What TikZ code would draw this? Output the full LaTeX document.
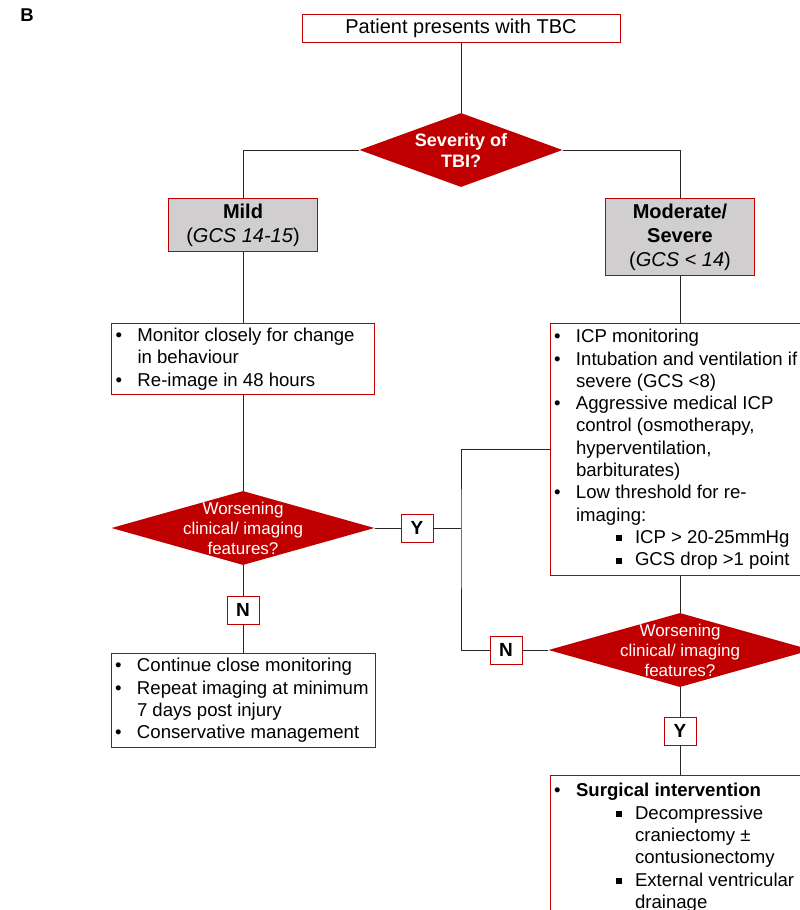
\documentclass[tikz,border=0pt]{standalone}
\usepackage{fontspec}
\setmainfont{Liberation Sans}
\usetikzlibrary{shapes.geometric}
\definecolor{tbired}{HTML}{C00000}
\definecolor{tbigray}{HTML}{D0CECE}
\newcommand{\listfont}{\fontsize{18.6}{22.3}\selectfont}
\newcommand{\bul}[1]{\par\noindent\hangindent=22pt\hangafter=1\makebox[22pt][l]{\textbullet}#1}
\newcommand{\sqbul}[1]{\par\noindent\hangindent=81pt\hangafter=1\hspace*{62pt}\makebox[19pt][l]{\rule[2pt]{6pt}{6pt}}#1}
\newcommand{\blist}[2]{\begin{minipage}{#1}\raggedright\hyphenpenalty=10000\listfont#2\end{minipage}}

\begin{document}
\begin{tikzpicture}[x=1pt, y=-1pt,
    link/.style={draw=black!85, line width=0.9pt},
    title/.style={draw=tbired, fill=white, line width=0.8pt, minimum width=318pt, minimum height=28pt, inner sep=0pt, font=\fontsize{20}{24}\selectfont},
    grade/.style={draw=tbired, fill=tbigray, line width=0.8pt, anchor=north, minimum width=149pt, inner sep=0pt, align=center, font=\fontsize{20}{24}\selectfont},
    listbox/.style={draw=tbired, fill=white, line width=0.8pt, anchor=north, inner sep=0pt},
    dec/.style={diamond, fill=tbired, draw=none, minimum height=74pt, inner sep=0pt},
    dectext/.style={text=white, align=center, inner sep=0pt},
    yn/.style={draw=tbired, fill=white, line width=0.8pt, minimum width=32pt, minimum height=28pt, inner sep=0pt, font=\fontsize{19}{22}\selectfont\bfseries}]
    \useasboundingbox (0,0) rectangle (800,910);
    \clip (0,0) rectangle (800,910);

    \node[font=\fontsize{18.5}{20}\selectfont\bfseries] (panel) at (27,15) {B};

    % Top
    \node[title] (pres) at (461,28) {\raisebox{-1.5pt}{Patient presents with TBC}};
    \node[dec, minimum width=203pt] (sev) at (461,150) {};
    \node[dectext, font=\fontsize{18}{21}\selectfont\bfseries] (sevq) at (sev) {Severity of\\TBI?};

    % Mild branch
    \node[grade, minimum height=53pt] (mild) at (243,198) {\textbf{Mild}\\(\textit{GCS 14-15})};
    \node[listbox, minimum width=263pt, minimum height=71pt] (mildlist) at (243,323) {\blist{255pt}{%
        \bul{Monitor closely for change\newline in behaviour}
        \bul{Re-image in 48 hours}}};
    \node[dec, minimum width=263pt] (wors1) at (243,528) {};
    \node[dectext, font=\fontsize{17}{20}\selectfont] (wors1q) at (wors1) {Worsening\\clinical/ imaging\\features?};
    \node[yn] (y1) at (417,528) {Y};
    \node[yn] (n1) at (243,610) {N};
    \node[listbox, minimum width=264pt, minimum height=94pt] (mildcont) at (243,653) {\blist{256pt}{%
        \bul{Continue close monitoring}
        \bul{Repeat imaging at minimum\newline 7 days post injury}
        \bul{Conservative management}}};

    % Moderate/severe branch
    \node[grade, minimum height=77pt] (modsev) at (680,198) {\textbf{Moderate/}\\\textbf{Severe}\\(\textit{GCS < 14})};
    \node[listbox, minimum width=260pt, minimum height=252pt] (modlist) at (680,323) {\blist{252pt}{%
        \bul{ICP monitoring}
        \bul{Intubation and ventilation if\newline severe (GCS <8)}
        \bul{Aggressive medical ICP\newline control (osmotherapy,\newline hyperventilation,\newline barbiturates)}
        \bul{Low threshold for re-\newline imaging:}
        \sqbul{ICP > 20-25mmHg}
        \sqbul{GCS drop >1 point}}};
    \node[dec, minimum width=263pt] (wors2) at (680,650) {};
    \node[dectext, font=\fontsize{17}{20}\selectfont] (wors2q) at (wors2) {Worsening\\clinical/ imaging\\features?};
    \node[yn] (n2) at (506,650) {N};
    \node[yn] (y2) at (680,731) {Y};
    \node[listbox, minimum width=260pt, inner ysep=8pt] (surg) at (680,775) {\blist{252pt}{%
        \bul{\textbf{Surgical intervention}}
        \sqbul{Decompressive\newline craniectomy ±\newline contusionectomy}
        \sqbul{External ventricular\newline drainage}
        \par\mbox{}\par\mbox{}}};

    % Connectors
    \coordinate (split) at (461,528);
    \draw[link] (pres) -- (sev);
    \draw[link] (sev.west) -| (mild);
    \draw[link] (sev.east) -| (modsev);
    \draw[link] (mild) -- (mildlist);
    \draw[link] (mildlist) -- (wors1);
    \draw[link] (wors1) -- (y1);
    \draw[link] (y1) -- (split);
    \draw[link] (wors1) -- (n1);
    \draw[link] (n1) -- (mildcont);
    \draw[link] (modsev) -- (modlist);
    \draw[link] (modlist.west) -| (split) |- (n2.west);
    \draw[link] (modlist) -- (wors2);
    \draw[link] (n2) -- (wors2);
    \draw[link] (wors2) -- (y2);
    \draw[link] (y2) -- (surg);
\end{tikzpicture}
\end{document}
